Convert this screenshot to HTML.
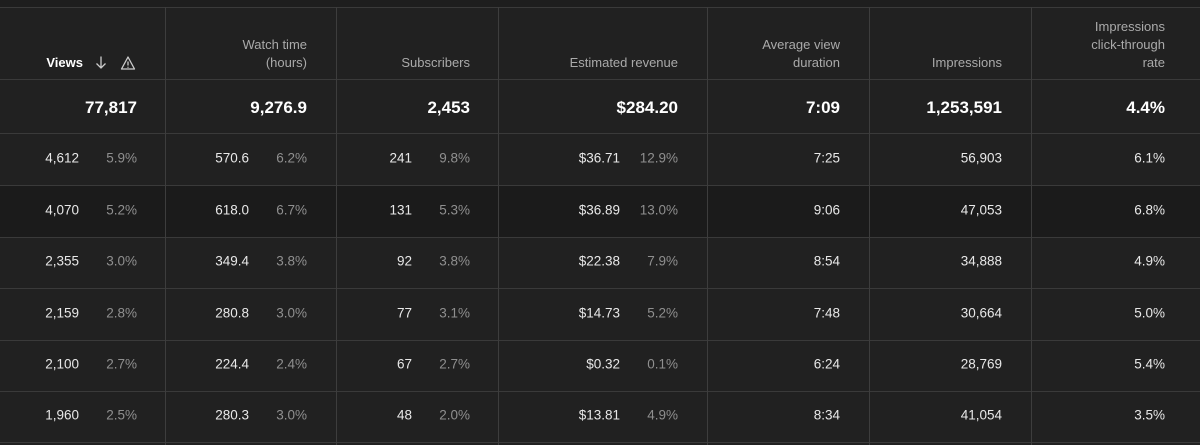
<!DOCTYPE html>
<html><head><style>
body{margin:0;width:1200px;height:445px;background:#212121;overflow:hidden;font-family:"Liberation Sans",Arial,sans-serif;position:relative}
.h{position:absolute;left:0;width:1200px;height:1px;background:#3a3a3a}
.v{position:absolute;top:7px;height:438px;width:1px;background:#3d3d3d}
.t{position:absolute;white-space:nowrap;text-align:right;transform:translateY(-50%)}
.hd{color:#aaa;font-size:13px;line-height:18px}
.tot{color:#fff;font-size:17px;font-weight:bold}
.val{color:#e8e8e8;font-size:13.5px}
.pct{color:#8f8f8f;font-size:13.5px}
</style></head><body>
<div style="position:absolute;left:0;top:0;width:1200px;height:7px;background:#1e1e1e"></div>
<div style="position:absolute;left:0;top:186px;width:1200px;height:51px;background:#1b1b1b"></div>
<div class="h" style="top:7px"></div>
<div class="h" style="top:79px"></div>
<div class="h" style="top:133px"></div>
<div class="h" style="top:185px"></div>
<div class="h" style="top:237px"></div>
<div class="h" style="top:288px"></div>
<div class="h" style="top:340px"></div>
<div class="h" style="top:391px"></div>
<div class="h" style="top:442px"></div>
<div class="v" style="left:165px"></div>
<div class="v" style="left:336px"></div>
<div class="v" style="left:498px"></div>
<div class="v" style="left:707px"></div>
<div class="v" style="left:869px"></div>
<div class="v" style="left:1031px"></div>
<svg style="position:absolute;left:94px;top:55px" width="46" height="16" viewBox="0 0 46 16">
<path d="M7 1.5V13M2.5 8.5L7 13L11.5 8.5" stroke="#ccc" stroke-width="1.3" fill="none"/>
<path d="M34 2L27.5 14H40.5Z" stroke="#ccc" stroke-width="1.3" fill="none" stroke-linejoin="round"/>
<path d="M34 6.5V10.5M34 11.8V12.8" stroke="#ccc" stroke-width="1.3"/>
</svg>
<div id="c"></div>
<script>
var c=document.getElementById('c'),h='';
function t(cls,right,y,txt){h+='<div class="t '+cls+'" style="right:'+(1200-right)+'px;top:'+y+'px">'+txt+'</div>';}
t('hd',83,63,'<b style="color:#fff">Views</b>');
t('hd',307,54,'Watch time<br>(hours)');
t('hd',470,63,'Subscribers');
t('hd',678,63,'Estimated revenue');
t('hd',840,54,'Average view<br>duration');
t('hd',1002,63,'Impressions');
t('hd',1165,45,'Impressions<br>click-through<br>rate');
var tots=[[137,'77,817'],[307,'9,276.9'],[470,'2,453'],[678,'$284.20'],[840,'7:09'],[1002,'1,253,591'],[1165,'4.4%']];
tots.forEach(function(a){t('tot',a[0],108,a[1]);});
var rows=[
['4,612','5.9%','570.6','6.2%','241','9.8%','$36.71','12.9%','7:25','56,903','6.1%'],
['4,070','5.2%','618.0','6.7%','131','5.3%','$36.89','13.0%','9:06','47,053','6.8%'],
['2,355','3.0%','349.4','3.8%','92','3.8%','$22.38','7.9%','8:54','34,888','4.9%'],
['2,159','2.8%','280.8','3.0%','77','3.1%','$14.73','5.2%','7:48','30,664','5.0%'],
['2,100','2.7%','224.4','2.4%','67','2.7%','$0.32','0.1%','6:24','28,769','5.4%'],
['1,960','2.5%','280.3','3.0%','48','2.0%','$13.81','4.9%','8:34','41,054','3.5%']];
var ys=[158,210,261,313,364,415];
rows.forEach(function(r,i){var y=ys[i];
t('val',79,y,r[0]);t('pct',137,y,r[1]);
t('val',249,y,r[2]);t('pct',307,y,r[3]);
t('val',412,y,r[4]);t('pct',470,y,r[5]);
t('val',620,y,r[6]);t('pct',678,y,r[7]);
t('val',840,y,r[8]);t('val',1002,y,r[9]);t('val',1165,y,r[10]);});
c.innerHTML=h;
</script>
</body></html>
